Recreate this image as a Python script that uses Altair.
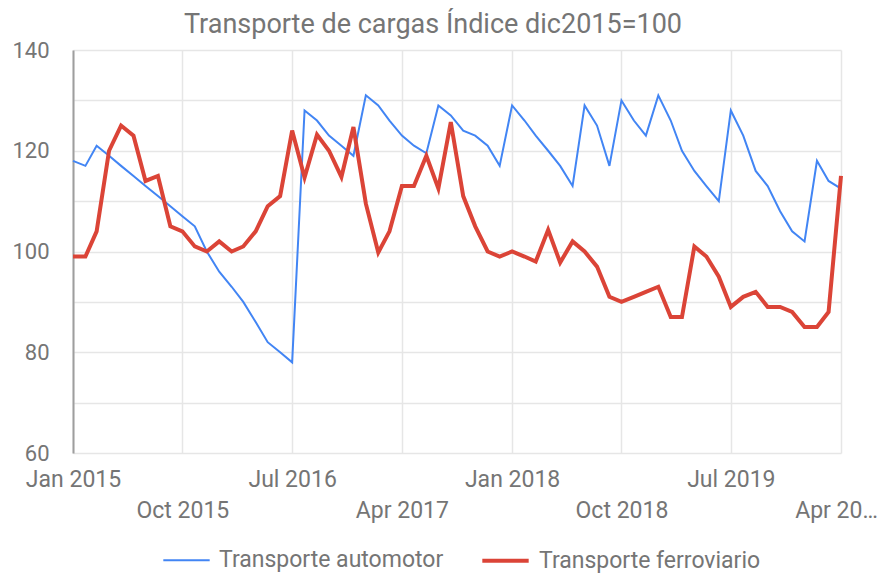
import json
import altair as alt
import pandas as pd

title_text = "Transporte de cargas Índice dic2015=100"
series_names = ["Transporte automotor", "Transporte ferroviario"]
series_colors = ["#4285f4", "#db4437"]

months = [d.strftime("%Y-%m-%d") for d in pd.date_range("2015-01-01", periods=64, freq="MS")]

automotor = [
    118, 117, 121, 119, 117, 115, 113, 111, 109, 107, 105, 100,
    96, 93, 90, 86, 82, 80, 78, 128, 126, 123, 121, 119,
    131, 129, 126, 123, 121, 119.5, 129, 127, 124, 123, 121, 117,
    129, 126, 123, 120, 117, 113, 129, 125, 117, 130, 126, 123,
    131, 126, 120, 116, 113, 110, 128, 123, 116, 113, 108, 104,
    102, 118, 114, 112.5,
]
ferroviario = [
    99, 99, 104, 120, 125, 123, 114, 115, 105, 104, 101, 100,
    102, 100, 101, 104, 109, 111, 124, 114.7, 123.2, 120, 114.8, 124.7,
    109.5, 99.8, 104, 113, 113, 119, 112.5, 125.7, 111, 105, 100, 99,
    100, 99, 98, 104.3, 97.8, 102, 100, 97, 91, 90, 91, 92,
    93, 87, 87, 101, 99, 95, 89, 91, 92, 89, 89, 88,
    85, 85, 88, 115,
]

x_tick_years_months = [(2015, 1), (2015, 10), (2016, 7), (2017, 4), (2018, 1), (2018, 10), (2019, 7), (2020, 4)]
x_tick_labels = ["Jan 2015", "Oct 2015", "Jul 2016", "Apr 2017", "Jan 2018", "Oct 2018", "Jul 2019", "Apr 20…"]
y_ticks = [60, 70, 80, 90, 100, 110, 120, 130, 140]

rows = []
for name, vals in zip(series_names, [automotor, ferroviario]):
    for m, v in zip(months, vals):
        rows.append({"fecha": m, "serie": name, "valor": v})
df = pd.DataFrame(rows)

idx = "round(((utcyear(datum.value)-2015)*12+utcmonth(datum.value))/9)"
labs = json.dumps(x_tick_labels, ensure_ascii=False)
x_label_expr = f"{idx} % 2 == 0 ? {labs}[{idx}] : ['', {labs}[{idx}]]"

x_values = [alt.DateTime(year=y, month=m, date=1, utc=True) for y, m in x_tick_years_months]

chart = alt.Chart(df).mark_line(strokeJoin="miter").encode(
    x=alt.X(
        "fecha:T",
        scale=alt.Scale(type="utc", domain=[alt.DateTime(year=2015, month=1, date=1, utc=True),
                                            alt.DateTime(year=2020, month=4, date=1, utc=True)]),
        axis=alt.Axis(
            title=None,
            values=x_values,
            labelExpr=x_label_expr,
            labelOverlap=False,
            labelFlush=False,
            labelBound=False,
            labelPadding=15,
            labelLineHeight=31,
            labelFontSize=23,
            labelColor="#757575",
            labelFont="Roboto",
            labelOffset={"condition": {"test": "utcyear(datum.value) == 2020", "value": -5}, "value": 0},
            ticks=False,
            domain=False,
            grid=True,
            gridColor="#e6e6e6",
            gridWidth=1.5,
        ),
    ),
    y=alt.Y(
        "valor:Q",
        scale=alt.Scale(domain=[60, 140], nice=False, zero=False),
        axis=alt.Axis(
            title=None,
            values=y_ticks,
            labelExpr="datum.value % 20 == 0 ? datum.label : ''",
            labelFontSize=22,
            labelColor="#757575",
            labelFont="Roboto",
            labelPadding=24,
            ticks=False,
            domain=True,
            domainColor="#9e9e9e",
            domainWidth=2,
            grid=True,
            gridColor="#e6e6e6",
            gridWidth=1.5,
        ),
    ),
    color=alt.Color(
        "serie:N",
        scale=alt.Scale(domain=series_names, range=series_colors),
        legend=alt.Legend(
            title=None,
            orient="none",
            legendX=89,
            legendY=485,
            direction="horizontal",
            symbolType="stroke",
            symbolSize=2150,
            symbolStrokeWidth=3,
            labelFontSize=23,
            labelFont="Roboto",
            labelColor="#757575",
            labelLimit=400,
            labelOffset=8,
            columnPadding=30,
        ),
    ),
    strokeWidth=alt.StrokeWidth(
        "serie:N",
        scale=alt.Scale(domain=series_names, range=[2, 4]),
        legend=None,
    ),
).properties(
    width=768,
    height=403,
    autosize=alt.AutoSizeParams(type="none"),
    padding={"left": 65, "top": 42, "right": 36, "bottom": 121},
    title=alt.TitleParams(
        text=title_text,
        font="Roboto",
        fontSize=27,
        fontWeight="normal",
        color="#757575",
        anchor="middle",
        dx=-24,
        offset=0,
    ),
).configure_view(stroke=None)

chart.save("out.html", embed_options={"renderer": "svg", "actions": False})
